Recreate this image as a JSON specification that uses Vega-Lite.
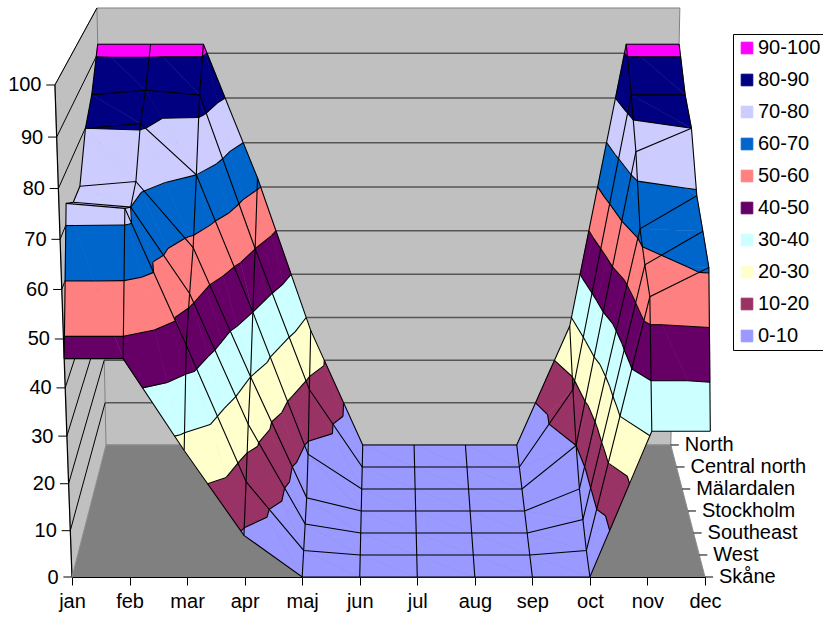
{
  "$schema": "https://vega.github.io/schema/vega-lite/v6.json",
  "width": 633,
  "height": 569,
  "autosize": {"type": "none"},
  "padding": {"left": 72, "top": 8, "right": 118, "bottom": 45},
  "background": "white",
  "config": {
    "view": {"stroke": null},
    "font": "Liberation Sans",
    "axis": {"labelFont": "Liberation Sans", "labelFontSize": 20, "labelColor": "black", "tickColor": "black", "domainColor": "black"},
    "legend": {"labelFont": "Liberation Sans", "labelFontSize": 20, "labelColor": "black"}
  },
  "data": {
    "values": [
      {"region": "Skåne", "month": "jan", "value": 46}, {"region": "Skåne", "month": "feb", "value": 46}, {"region": "Skåne", "month": "mar", "value": 27}, {"region": "Skåne", "month": "apr", "value": 9}, {"region": "Skåne", "month": "maj", "value": 0}, {"region": "Skåne", "month": "jun", "value": 0}, {"region": "Skåne", "month": "jul", "value": 0}, {"region": "Skåne", "month": "aug", "value": 0}, {"region": "Skåne", "month": "sep", "value": 0}, {"region": "Skåne", "month": "oct", "value": 0}, {"region": "Skåne", "month": "nov", "value": 31}, {"region": "Skåne", "month": "dec", "value": 31},
      {"region": "West", "month": "jan", "value": 74}, {"region": "West", "month": "feb", "value": 73}, {"region": "West", "month": "mar", "value": 45}, {"region": "West", "month": "apr", "value": 16}, {"region": "West", "month": "maj", "value": 1}, {"region": "West", "month": "jun", "value": 0}, {"region": "West", "month": "jul", "value": 0}, {"region": "West", "month": "aug", "value": 0}, {"region": "West", "month": "sep", "value": 0}, {"region": "West", "month": "oct", "value": 1}, {"region": "West", "month": "nov", "value": 55}, {"region": "West", "month": "dec", "value": 61},
      {"region": "Southeast", "month": "jan", "value": 71}, {"region": "Southeast", "month": "feb", "value": 70}, {"region": "Southeast", "month": "mar", "value": 52}, {"region": "Southeast", "month": "apr", "value": 24}, {"region": "Southeast", "month": "maj", "value": 2}, {"region": "Southeast", "month": "jun", "value": 0}, {"region": "Southeast", "month": "jul", "value": 0}, {"region": "Southeast", "month": "aug", "value": 0}, {"region": "Southeast", "month": "sep", "value": 0}, {"region": "Southeast", "month": "oct", "value": 3}, {"region": "Southeast", "month": "nov", "value": 58}, {"region": "Southeast", "month": "dec", "value": 65},
      {"region": "Stockholm", "month": "jan", "value": 71}, {"region": "Stockholm", "month": "feb", "value": 72}, {"region": "Stockholm", "month": "mar", "value": 58}, {"region": "Stockholm", "month": "apr", "value": 30}, {"region": "Stockholm", "month": "maj", "value": 3}, {"region": "Stockholm", "month": "jun", "value": 0}, {"region": "Stockholm", "month": "jul", "value": 0}, {"region": "Stockholm", "month": "aug", "value": 0}, {"region": "Stockholm", "month": "sep", "value": 0}, {"region": "Stockholm", "month": "oct", "value": 5}, {"region": "Stockholm", "month": "nov", "value": 62}, {"region": "Stockholm", "month": "dec", "value": 69},
      {"region": "Mälardalen", "month": "jan", "value": 80}, {"region": "Mälardalen", "month": "feb", "value": 81}, {"region": "Mälardalen", "month": "mar", "value": 70}, {"region": "Mälardalen", "month": "apr", "value": 40}, {"region": "Mälardalen", "month": "maj", "value": 8}, {"region": "Mälardalen", "month": "jun", "value": 0}, {"region": "Mälardalen", "month": "jul", "value": 0}, {"region": "Mälardalen", "month": "aug", "value": 0}, {"region": "Mälardalen", "month": "sep", "value": 0}, {"region": "Mälardalen", "month": "oct", "value": 10}, {"region": "Mälardalen", "month": "nov", "value": 75}, {"region": "Mälardalen", "month": "dec", "value": 80},
      {"region": "Central north", "month": "jan", "value": 84}, {"region": "Central north", "month": "feb", "value": 85}, {"region": "Central north", "month": "mar", "value": 84}, {"region": "Central north", "month": "apr", "value": 50}, {"region": "Central north", "month": "maj", "value": 18}, {"region": "Central north", "month": "jun", "value": 0}, {"region": "Central north", "month": "jul", "value": 0}, {"region": "Central north", "month": "aug", "value": 0}, {"region": "Central north", "month": "sep", "value": 0}, {"region": "Central north", "month": "oct", "value": 18}, {"region": "Central north", "month": "nov", "value": 84}, {"region": "Central north", "month": "dec", "value": 84},
      {"region": "North", "month": "jan", "value": 92}, {"region": "North", "month": "feb", "value": 92}, {"region": "North", "month": "mar", "value": 92}, {"region": "North", "month": "apr", "value": 62}, {"region": "North", "month": "maj", "value": 27}, {"region": "North", "month": "jun", "value": 0}, {"region": "North", "month": "jul", "value": 0}, {"region": "North", "month": "aug", "value": 0}, {"region": "North", "month": "sep", "value": 0}, {"region": "North", "month": "oct", "value": 28}, {"region": "North", "month": "nov", "value": 92}, {"region": "North", "month": "dec", "value": 92}
    ]
  },
  "transform": [
    {"calculate": "indexof(['jan','feb','mar','apr','maj','jun','jul','aug','sep','oct','nov','dec'], datum.month)", "as": "u"},
    {"calculate": "indexof(['Skåne','West','Southeast','Stockholm','Mälardalen','Central north','North'], datum.region)", "as": "d"}
  ],
  "encoding": {
    "x": {
      "field": "X",
      "type": "quantitative",
      "scale": {"domain": [0, 11], "nice": false, "zero": false},
      "axis": {"values": [0, 1, 2, 3, 4, 5, 6, 7, 8, 9, 10, 11], "labelExpr": "['jan','feb','mar','apr','maj','jun','jul','aug','sep','oct','nov','dec'][datum.value]", "grid": false, "tickSize": 8, "labelPadding": 6, "title": null, "labelFlush": false}
    },
    "y": {
      "field": "Y",
      "type": "quantitative",
      "scale": {"domain": [0, 115.65], "nice": false, "zero": false},
      "axis": {
        "values": [0, 10, 20, 30, 40, 50, 60, 70, 80, 90, 100],
        "grid": false, "ticks": false, "tickSize": 0, "domain": false, "labelPadding": 14, "title": null,
        "encoding": {"labels": {"dx": {"value": {"expr": "-0.17 * datum.value"}}, "dy": {"value": {"expr": "0.32 * datum.value - 0.0032 * datum.value * datum.value"}}}}
      }
    }
  },
  "layer": [
    {
      "transform": [
        {"filter": "datum.u == 0 && datum.d == 0"},
        {"calculate": "[0, 1]", "as": "wall"},
        {"flatten": ["wall"]},
        {"calculate": "[0, 1, 2, 3]", "as": "k"},
        {"flatten": ["k"]},
        {"calculate": "datum.wall == 0 ? ((datum.k == 1 || datum.k == 2) ? 11 : 0) : 0", "as": "cu"},
        {"calculate": "datum.wall == 0 ? 1 : ((datum.k == 2 || datum.k == 3) ? 1 : 0)", "as": "t"},
        {"calculate": "datum.wall == 0 ? (datum.k >= 2 ? 100 : 0) : ((datum.k == 1 || datum.k == 2) ? 100 : 0)", "as": "cv"},
        {"calculate": "(388 + (72 + 34 * datum.t + datum.cu * (57.545 - 6.2 * datum.t) - 388) * (1 + (0.00054 - 0.00022 * datum.t) * datum.cv) - 72) / 57.545", "as": "X"},
        {"calculate": "(132 * datum.t + (4.6 - 0.4 * datum.t) * datum.cv + (0.0032 - 0.0015 * datum.t) * datum.cv * datum.cv) / 4.92", "as": "Y"}
      ],
      "mark": {"type": "line", "fill": "#c0c0c0", "stroke": "#808080", "strokeWidth": 1},
      "encoding": {"detail": {"field": "wall", "type": "nominal"}, "order": {"field": "k", "type": "quantitative"}}
    },
    {
      "transform": [
        {"filter": "datum.u == 0 && datum.d == 0"},
        {"calculate": "[0, 10, 20, 30, 40, 50, 60, 70, 80, 90, 100]", "as": "lv"},
        {"flatten": ["lv"]},
        {"calculate": "[0, 1, 2, 3]", "as": "k"},
        {"flatten": ["k"]},
        {"calculate": "datum.k == 3 ? 11 : 0", "as": "cu"},
        {"calculate": "datum.k >= 2 ? 1 : 0", "as": "t"},
        {"calculate": "datum.lv", "as": "cv"},
        {"calculate": "(388 + (72 + 34 * datum.t + datum.cu * (57.545 - 6.2 * datum.t) - 388) * (1 + (0.00054 - 0.00022 * datum.t) * datum.cv) - 72) / 57.545 - (datum.k == 0 ? 0.15 : 0)", "as": "X"},
        {"calculate": "(132 * datum.t + (4.6 - 0.4 * datum.t) * datum.cv + (0.0032 - 0.0015 * datum.t) * datum.cv * datum.cv) / 4.92", "as": "Y"}
      ],
      "layer": [
        {
          "transform": [{"filter": "datum.k >= 2 && datum.lv > 0 && datum.lv < 100"}],
          "mark": {"type": "line", "stroke": "#555555", "strokeWidth": 1.5},
          "encoding": {"detail": {"field": "lv", "type": "nominal"}, "order": {"field": "k", "type": "quantitative"}}
        },
        {
          "transform": [{"filter": "(datum.k == 1 || datum.k == 2) && datum.lv > 0"}],
          "mark": {"type": "line", "stroke": "black", "strokeWidth": 1},
          "encoding": {"detail": {"field": "lv", "type": "nominal"}, "order": {"field": "k", "type": "quantitative"}}
        },
        {
          "transform": [{"filter": "datum.k <= 1"}],
          "mark": {"type": "line", "stroke": "black", "strokeWidth": 1},
          "encoding": {"detail": {"field": "lv", "type": "nominal"}, "order": {"field": "k", "type": "quantitative"}}
        },
        {
          "transform": [{"filter": "datum.k == 1"}],
          "mark": {"type": "line", "stroke": "black", "strokeWidth": 1.2},
          "encoding": {"order": {"field": "lv", "type": "quantitative"}}
        }
      ]
    },
    {
      "transform": [
        {"filter": "(datum.u == 0 || datum.u == 11) && (datum.d == 0 || datum.d == 6)"},
        {"calculate": "datum.u == 0 ? (datum.d == 0 ? 0 : 1) : (datum.d == 6 ? 2 : 3)", "as": "k"},
        {"calculate": "datum.u", "as": "cu"},
        {"calculate": "0", "as": "cv"},
        {"calculate": "datum.d / 6", "as": "t"},
        {"calculate": "(388 + (72 + 34 * datum.t + datum.cu * (57.545 - 6.2 * datum.t) - 388) * (1 + (0.00054 - 0.00022 * datum.t) * datum.cv) - 72) / 57.545", "as": "X"},
        {"calculate": "(132 * datum.t + (4.6 - 0.4 * datum.t) * datum.cv + (0.0032 - 0.0015 * datum.t) * datum.cv * datum.cv) / 4.92", "as": "Y"}
      ],
      "mark": {"type": "line", "fill": "#808080", "stroke": "#8c8c8c", "strokeWidth": 1},
      "encoding": {"order": {"field": "k", "type": "quantitative"}}
    },
    {
      "transform": [
        {"window": [{"op": "lead", "field": "value", "as": "vR"}], "groupby": ["region"], "sort": [{"field": "u", "order": "ascending"}]},
        {"window": [{"op": "lead", "field": "value", "as": "vB"}], "groupby": ["month"], "sort": [{"field": "d", "order": "ascending"}]},
        {"window": [{"op": "lead", "field": "vB", "as": "vRB"}], "groupby": ["region"], "sort": [{"field": "u", "order": "ascending"}]},
        {"filter": "datum.u < 11 && datum.d < 6"},
        {"calculate": "[0, 1]", "as": "tri"},
        {"flatten": ["tri"]},
        {"calculate": "datum.tri == 0 ? datum.u : datum.u + 1", "as": "x0"},
        {"calculate": "datum.d", "as": "z0"},
        {"calculate": "datum.tri == 0 ? datum.value : datum.vR", "as": "h0"},
        {"calculate": "datum.u + 1", "as": "x1"},
        {"calculate": "datum.tri == 0 ? datum.d : datum.d + 1", "as": "z1"},
        {"calculate": "datum.tri == 0 ? datum.vR : datum.vRB", "as": "h1"},
        {"calculate": "datum.u", "as": "x2"},
        {"calculate": "datum.d + 1", "as": "z2"},
        {"calculate": "datum.vB", "as": "h2"},
        {"calculate": "min(datum.h0, datum.h1, datum.h2)", "as": "hmin"},
        {"calculate": "max(datum.h0, datum.h1, datum.h2)", "as": "hmax"}
      ],
      "layer": [
        {
          "transform": [
            {"calculate": "[0, 10, 20, 30, 40, 50, 60, 70, 80, 90]", "as": "lo"},
            {"flatten": ["lo"]},
            {"filter": "(datum.hmax > datum.lo || datum.lo == 0) && datum.hmin < datum.lo + 10"},
            {"calculate": "datum.lo + '-' + (datum.lo + 10)", "as": "band"},
            {"calculate": "datum.u + '_' + datum.d + '_' + datum.tri + '_' + datum.lo", "as": "pid"},
            {"calculate": "[0, 1, 2, 3, 4, 5, 6, 7, 8]", "as": "slot"},
            {"flatten": ["slot"]},
            {"calculate": "floor(datum.slot / 3)", "as": "e"},
            {"calculate": "datum.slot % 3", "as": "kd"},
            {"calculate": "datum.e == 0 ? datum.x0 : datum.e == 1 ? datum.x1 : datum.x2", "as": "pu"},
            {"calculate": "datum.e == 0 ? datum.z0 : datum.e == 1 ? datum.z1 : datum.z2", "as": "pd"},
            {"calculate": "datum.e == 0 ? datum.h0 : datum.e == 1 ? datum.h1 : datum.h2", "as": "pv"},
            {"calculate": "datum.e == 0 ? datum.x1 : datum.e == 1 ? datum.x2 : datum.x0", "as": "qu"},
            {"calculate": "datum.e == 0 ? datum.z1 : datum.e == 1 ? datum.z2 : datum.z0", "as": "qd"},
            {"calculate": "datum.e == 0 ? datum.h1 : datum.e == 1 ? datum.h2 : datum.h0", "as": "qv"},
            {"calculate": "datum.kd == 1 ? (datum.pv < datum.qv ? datum.lo : datum.lo + 10) : (datum.pv < datum.qv ? datum.lo + 10 : datum.lo)", "as": "lvl"},
            {"calculate": "datum.kd == 0 ? (datum.pv >= datum.lo && datum.pv <= datum.lo + 10) : (min(datum.pv, datum.qv) < datum.lvl && datum.lvl < max(datum.pv, datum.qv))", "as": "ok"},
            {"filter": "datum.ok"},
            {"calculate": "datum.kd == 0 ? 0 : (datum.lvl - datum.pv) / (datum.qv - datum.pv)", "as": "f"},
            {"calculate": "datum.pu + datum.f * (datum.qu - datum.pu)", "as": "cu"},
            {"calculate": "(datum.pd + datum.f * (datum.qd - datum.pd)) / 6", "as": "t"},
            {"calculate": "datum.kd == 0 ? datum.pv : datum.lvl", "as": "cv"},
            {"calculate": "(388 + (72 + 34 * datum.t + datum.cu * (57.545 - 6.2 * datum.t) - 388) * (1 + (0.00054 - 0.00022 * datum.t) * datum.cv) - 72) / 57.545", "as": "X"},
            {"calculate": "(132 * datum.t + (4.6 - 0.4 * datum.t) * datum.cv + (0.0032 - 0.0015 * datum.t) * datum.cv * datum.cv) / 4.92", "as": "Y"}
          ],
          "encoding": {
            "fill": {
              "field": "band",
              "type": "nominal",
              "scale": {
                "domain": ["90-100", "80-90", "70-80", "60-70", "50-60", "40-50", "30-40", "20-30", "10-20", "0-10"],
                "range": ["#ff00ff", "#000080", "#ccccff", "#0066cc", "#ff8080", "#660066", "#ccffff", "#ffffcc", "#993366", "#9999ff"]
              },
              "legend": {
                "title": null,
                "orient": "none",
                "legendX": 661,
                "legendY": 26,
                "symbolType": "square",
                "symbolSize": 135,
                "symbolStrokeColor": "black",
                "symbolStrokeWidth": 1,
                "symbolOpacity": 1,
                "rowPadding": 12,
                "labelOffset": 1,
                "padding": 4,
                "strokeColor": "black",
                "fillColor": "white"
              }
            },
            "stroke": {
              "field": "band",
              "type": "nominal",
              "scale": {
                "domain": ["90-100", "80-90", "70-80", "60-70", "50-60", "40-50", "30-40", "20-30", "10-20", "0-10"],
                "range": ["#ff00ff", "#000080", "#ccccff", "#0066cc", "#ff8080", "#660066", "#ccffff", "#ffffcc", "#993366", "#9999ff"]
              },
              "legend": null
            },
            "detail": {"field": "pid", "type": "nominal"},
            "order": {"field": "slot", "type": "quantitative"}
          },
          "layer": [
            {"transform": [{"filter": "datum.d == 5"}], "mark": {"type": "line", "strokeWidth": 0.6}},
            {"transform": [{"filter": "datum.d == 4"}], "mark": {"type": "line", "strokeWidth": 0.6}},
            {"transform": [{"filter": "datum.d == 3"}], "mark": {"type": "line", "strokeWidth": 0.6}},
            {"transform": [{"filter": "datum.d == 2"}], "mark": {"type": "line", "strokeWidth": 0.6}},
            {"transform": [{"filter": "datum.d == 1"}], "mark": {"type": "line", "strokeWidth": 0.6}},
            {"transform": [{"filter": "datum.d == 0"}], "mark": {"type": "line", "strokeWidth": 0.6}}
          ]
        },
        {
          "transform": [
            {"calculate": "[10, 20, 30, 40, 50, 60, 70, 80, 90]", "as": "L"},
            {"flatten": ["L"]},
            {"filter": "datum.hmin <= datum.L && datum.L <= datum.hmax && datum.hmin < datum.hmax"},
            {"calculate": "datum.u + '_' + datum.d + '_' + datum.tri + '_' + datum.L", "as": "cid"},
            {"calculate": "[0, 1, 2, 3, 4, 5]", "as": "slot"},
            {"flatten": ["slot"]},
            {"calculate": "floor(datum.slot / 2)", "as": "e"},
            {"calculate": "datum.slot % 2", "as": "kd"},
            {"calculate": "datum.e == 0 ? datum.x0 : datum.e == 1 ? datum.x1 : datum.x2", "as": "pu"},
            {"calculate": "datum.e == 0 ? datum.z0 : datum.e == 1 ? datum.z1 : datum.z2", "as": "pd"},
            {"calculate": "datum.e == 0 ? datum.h0 : datum.e == 1 ? datum.h1 : datum.h2", "as": "pv"},
            {"calculate": "datum.e == 0 ? datum.x1 : datum.e == 1 ? datum.x2 : datum.x0", "as": "qu"},
            {"calculate": "datum.e == 0 ? datum.z1 : datum.e == 1 ? datum.z2 : datum.z0", "as": "qd"},
            {"calculate": "datum.e == 0 ? datum.h1 : datum.e == 1 ? datum.h2 : datum.h0", "as": "qv"},
            {"calculate": "datum.kd == 0 ? datum.pv == datum.L : (min(datum.pv, datum.qv) < datum.L && datum.L < max(datum.pv, datum.qv))", "as": "ok"},
            {"filter": "datum.ok"},
            {"calculate": "datum.kd == 0 ? 0 : (datum.L - datum.pv) / (datum.qv - datum.pv)", "as": "f"},
            {"calculate": "datum.pu + datum.f * (datum.qu - datum.pu)", "as": "cu"},
            {"calculate": "(datum.pd + datum.f * (datum.qd - datum.pd)) / 6", "as": "t"},
            {"calculate": "datum.L", "as": "cv"},
            {"calculate": "(388 + (72 + 34 * datum.t + datum.cu * (57.545 - 6.2 * datum.t) - 388) * (1 + (0.00054 - 0.00022 * datum.t) * datum.cv) - 72) / 57.545", "as": "X"},
            {"calculate": "(132 * datum.t + (4.6 - 0.4 * datum.t) * datum.cv + (0.0032 - 0.0015 * datum.t) * datum.cv * datum.cv) / 4.92", "as": "Y"}
          ],
          "mark": {"type": "line", "stroke": "black", "strokeWidth": 1.1},
          "encoding": {
            "detail": {"field": "cid", "type": "nominal"},
            "order": {"field": "slot", "type": "quantitative"}
          }
        }
      ]
    },
    {
      "transform": [
        {"calculate": "datum.u", "as": "cu"},
        {"calculate": "datum.value", "as": "cv"},
        {"calculate": "datum.d / 6", "as": "t"},
        {"calculate": "(388 + (72 + 34 * datum.t + datum.cu * (57.545 - 6.2 * datum.t) - 388) * (1 + (0.00054 - 0.00022 * datum.t) * datum.cv) - 72) / 57.545", "as": "X"},
        {"calculate": "(132 * datum.t + (4.6 - 0.4 * datum.t) * datum.cv + (0.0032 - 0.0015 * datum.t) * datum.cv * datum.cv) / 4.92", "as": "Y"}
      ],
      "layer": [
        {
          "mark": {"type": "line", "stroke": "black", "strokeWidth": 1.1},
          "encoding": {"detail": {"field": "region", "type": "nominal"}, "order": {"field": "u", "type": "quantitative"}}
        },
        {
          "mark": {"type": "line", "stroke": "black", "strokeWidth": 1.1},
          "encoding": {"detail": {"field": "month", "type": "nominal"}, "order": {"field": "d", "type": "quantitative"}}
        }
      ]
    },
    {
      "transform": [
        {"filter": "datum.u == 11"},
        {"calculate": "11", "as": "cu"},
        {"calculate": "datum.d / 6", "as": "t"},
        {"calculate": "(388 + (72 + 34 * datum.t + datum.cu * (57.545 - 6.2 * datum.t) - 388) - 72) / 57.545", "as": "X"},
        {"calculate": "datum.X + 0.14", "as": "X2"},
        {"calculate": "(132 * datum.t) / 4.92", "as": "Y"}
      ],
      "layer": [
        {"mark": {"type": "rule", "color": "black", "strokeWidth": 1}, "encoding": {"x2": {"field": "X2"}}},
        {"mark": {"type": "text", "align": "left", "baseline": "middle", "dx": 14, "fontSize": 20, "font": "Liberation Sans", "color": "black"}, "encoding": {"text": {"field": "region"}}}
      ]
    }
  ]
}
